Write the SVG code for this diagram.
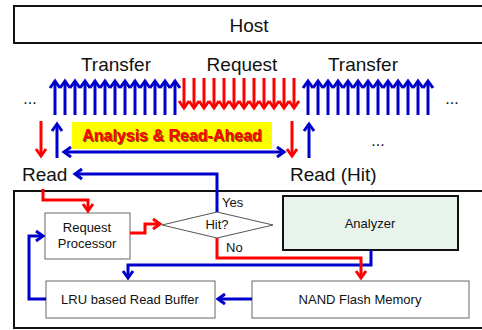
<svg xmlns="http://www.w3.org/2000/svg" width="482" height="330" viewBox="0 0 482 330">
<style>
text{font-family:"Liberation Sans",Arial,sans-serif;fill:#111}
.big{font-size:19px}
.sm{font-size:13px}
.ba{stroke:#0000cc;stroke-width:3;fill:none;marker-end:url(#mb)}
.ra{stroke:#ff0000;stroke-width:3;fill:none;marker-end:url(#mr)}
.box{fill:#fff;stroke:#666;stroke-width:1}
</style>
<defs>
<marker id="mb" markerUnits="userSpaceOnUse" markerWidth="14" markerHeight="14" viewBox="0 0 14 14" refX="11" refY="7" orient="auto" overflow="visible">
<path d="M4,2 L11,7 L4,12" fill="none" stroke="#0000cc" stroke-width="3"/>
</marker>
<marker id="mr" markerUnits="userSpaceOnUse" markerWidth="14" markerHeight="14" viewBox="0 0 14 14" refX="11" refY="7" orient="auto" overflow="visible">
<path d="M4,2 L11,7 L4,12" fill="none" stroke="#ff0000" stroke-width="3"/>
</marker>
<marker id="mbs" markerUnits="userSpaceOnUse" markerWidth="14" markerHeight="14" viewBox="0 0 14 14" refX="11" refY="7" orient="auto-start-reverse" overflow="visible">
<path d="M4,2 L11,7 L4,12" fill="none" stroke="#0000cc" stroke-width="3"/>
</marker>
</defs>

<g id="host">
<rect x="14" y="6" width="472" height="37" fill="#fff" stroke="#111" stroke-width="2"/>
<text x="249" y="32" text-anchor="middle" style="font-size:19px">Host</text>
</g>

<g id="labels">
<text class="big" x="116" y="71" text-anchor="middle">Transfer</text>
<text class="big" x="242" y="71" text-anchor="middle">Request</text>
<text class="big" x="363" y="71" text-anchor="middle">Transfer</text>
<text x="30" y="104" text-anchor="middle" style="font-size:16px">...</text>
<text x="452" y="104" text-anchor="middle" style="font-size:16px">...</text>
<text x="378" y="146" text-anchor="middle" style="font-size:16px">...</text>
<text class="big" x="22" y="181">Read</text>
<text class="big" x="290" y="181">Read (Hit)</text>
</g>

<g id="analysis-read-ahead">
<rect x="72" y="122" width="200" height="27" fill="#ffff00"/>
<text x="173" y="142" text-anchor="middle" style="font-size:16px;font-weight:bold;fill:#7a5a00">Analysis &amp; Read-Ahead</text>
<text x="172" y="141" text-anchor="middle" style="font-size:16px;font-weight:bold;fill:#ff0000">Analysis &amp; Read-Ahead</text>
</g>

<g id="device">
<rect x="14" y="191" width="472" height="137" fill="#fff" stroke="#111" stroke-width="2"/>
</g>

<g id="request-processor">
<rect class="box" x="45" y="213" width="85" height="46"/>
<text class="sm" x="87" y="232" text-anchor="middle">Request</text>
<text class="sm" x="87" y="248" text-anchor="middle">Processor</text>
</g>

<g id="hit-decision">
<polygon points="162,225 217,212 273,225 217,238" fill="#fff" stroke="#555" stroke-width="1"/>
<text class="sm" x="217" y="229" text-anchor="middle">Hit?</text>
</g>

<g id="analyzer">
<rect x="283" y="196" width="175" height="54" fill="#e8f3ec" stroke="#111" stroke-width="2"/>
<text class="sm" x="370" y="228" text-anchor="middle">Analyzer</text>
</g>

<g id="lru-buffer">
<rect class="box" x="46" y="281" width="169" height="37"/>
<text class="sm" x="130" y="304" text-anchor="middle">LRU based Read Buffer</text>
</g>

<g id="nand-flash">
<rect class="box" x="252" y="281" width="217" height="37"/>
<text class="sm" x="360" y="304" text-anchor="middle">NAND Flash Memory</text>
</g>

<g id="connectors">
<g id="transfer-left">
<line class="ba" x1="55" y1="115" x2="55" y2="81"/>
<line class="ba" x1="65" y1="115" x2="65" y2="81"/>
<line class="ba" x1="75" y1="115" x2="75" y2="81"/>
<line class="ba" x1="85" y1="115" x2="85" y2="81"/>
<line class="ba" x1="95" y1="115" x2="95" y2="81"/>
<line class="ba" x1="105" y1="115" x2="105" y2="81"/>
<line class="ba" x1="115" y1="115" x2="115" y2="81"/>
<line class="ba" x1="125" y1="115" x2="125" y2="81"/>
<line class="ba" x1="135" y1="115" x2="135" y2="81"/>
<line class="ba" x1="145" y1="115" x2="145" y2="81"/>
<line class="ba" x1="155" y1="115" x2="155" y2="81"/>
<line class="ba" x1="165" y1="115" x2="165" y2="81"/>
<line class="ba" x1="175" y1="115" x2="175" y2="81"/>
</g>
<g id="request-arrows">
<line class="ra" x1="184" y1="78" x2="184" y2="108"/>
<line class="ra" x1="194" y1="78" x2="194" y2="108"/>
<line class="ra" x1="204" y1="78" x2="204" y2="108"/>
<line class="ra" x1="214" y1="78" x2="214" y2="108"/>
<line class="ra" x1="224" y1="78" x2="224" y2="108"/>
<line class="ra" x1="234" y1="78" x2="234" y2="108"/>
<line class="ra" x1="244" y1="78" x2="244" y2="108"/>
<line class="ra" x1="254" y1="78" x2="254" y2="108"/>
<line class="ra" x1="264" y1="78" x2="264" y2="108"/>
<line class="ra" x1="274" y1="78" x2="274" y2="108"/>
<line class="ra" x1="284" y1="78" x2="284" y2="108"/>
<line class="ra" x1="294" y1="78" x2="294" y2="108"/>
</g>
<g id="transfer-right">
<line class="ba" x1="308" y1="115" x2="308" y2="81"/>
<line class="ba" x1="318" y1="115" x2="318" y2="81"/>
<line class="ba" x1="328" y1="115" x2="328" y2="81"/>
<line class="ba" x1="338" y1="115" x2="338" y2="81"/>
<line class="ba" x1="348" y1="115" x2="348" y2="81"/>
<line class="ba" x1="358" y1="115" x2="358" y2="81"/>
<line class="ba" x1="368" y1="115" x2="368" y2="81"/>
<line class="ba" x1="378" y1="115" x2="378" y2="81"/>
<line class="ba" x1="388" y1="115" x2="388" y2="81"/>
<line class="ba" x1="398" y1="115" x2="398" y2="81"/>
<line class="ba" x1="408" y1="115" x2="408" y2="81"/>
<line class="ba" x1="418" y1="115" x2="418" y2="81"/>
<line class="ba" x1="428" y1="115" x2="428" y2="81"/>
</g>
<line class="ra" x1="41" y1="121" x2="41" y2="156"/>
<line class="ba" x1="57" y1="158" x2="57" y2="124"/>
<line class="ra" x1="292" y1="121" x2="292" y2="156"/>
<line class="ba" x1="309" y1="158" x2="309" y2="124"/>
<line x1="64" y1="152" x2="284" y2="152" stroke="#0000cc" stroke-width="3" marker-start="url(#mbs)" marker-end="url(#mb)"/>

<path class="ba" d="M217,212 V174 H75"/>
<path class="ba" d="M371,250 V265 H128 V278"/>
<path class="ba" d="M252,299 H218"/>
<path class="ba" d="M46,299 H29 V236 H43"/>
<path class="ra" d="M43,189 V200 H88 V211"/>
<path class="ra" d="M130,233 H145 V224 H160"/>
<path class="ra" d="M217,238 V258 H361 V278"/>
</g>

<g id="branch-labels">
<text class="sm" x="222" y="207">Yes</text>
<text class="sm" x="226" y="252">No</text>
</g>
</svg>
